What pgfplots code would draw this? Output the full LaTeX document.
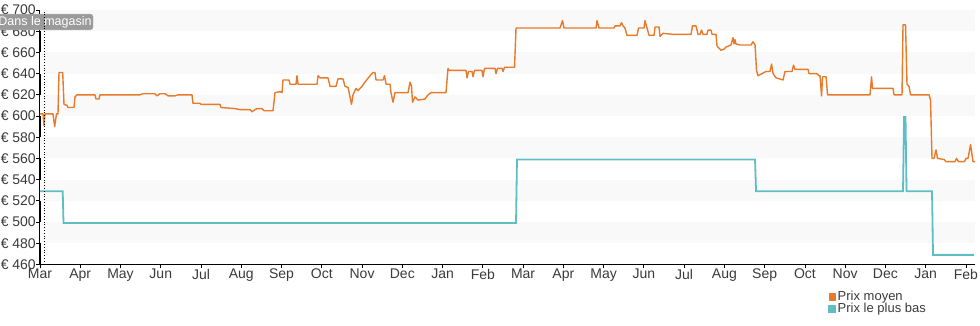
\documentclass[border=0pt]{standalone}
\usepackage{fontspec}
\setmainfont{Liberation Sans}
\usepackage{pgfplots}
\pgfplotsset{compat=1.18}
\definecolor{avgc}{HTML}{E87B2B}
\definecolor{lowc}{HTML}{5FBEC4}
\definecolor{band}{HTML}{F9F9F9}
\definecolor{txt}{HTML}{3A3A3A}
\definecolor{boxc}{HTML}{9A9A9A}
\begin{document}
\begin{tikzpicture}
\path[use as bounding box] (-40pt,-60.6pt) rectangle (940pt,264.4pt);
\begin{axis}[
  width=935pt, height=254.4pt, scale only axis,
  xmin=0, xmax=23.225, ymin=460, ymax=700,
  clip=false,
  axis x line*=bottom, axis y line*=left,
  axis line style={black, line width=1.1pt, -},
  xtick={0,...,23},
  xticklabels={Mar,Apr,May,Jun,Jul,Aug,Sep,Oct,Nov,Dec,Jan,Feb,Mar,Apr,May,Jun,Jul,Aug,Sep,Oct,Nov,Dec,Jan,Feb},
  ytick={460,480,...,700},
  yticklabels={€ 460,€ 480,€ 500,€ 520,€ 540,€ 560,€ 580,€ 600,€ 620,€ 640,€ 660,€ 680,€ 700},
  tick align=outside, major tick length=4pt,
  tick style={black, line width=0.8pt},
  ticklabel style={font=\fontsize{14}{16}\selectfont, text=txt},
  xticklabel style={inner sep=0pt, yshift=-0.5pt},
  yticklabel style={inner sep=0pt, xshift=0pt},
  legend style={at={(0.843,-0.1)}, anchor=north west, draw=none, fill=none,
    font=\fontsize{13}{15}\selectfont, text=txt, row sep=-2pt, inner sep=0pt,
    nodes={inner sep=1.5pt}},
  legend cell align=left,
  legend image code/.code={\fill[#1] (0pt,-3pt) rectangle (6pt,3pt);},
]
\fill[band] (axis cs:0,480) rectangle (axis cs:23.225,500);
\fill[band] (axis cs:0,520) rectangle (axis cs:23.225,540);
\fill[band] (axis cs:0,560) rectangle (axis cs:23.225,580);
\fill[band] (axis cs:0,600) rectangle (axis cs:23.225,620);
\fill[band] (axis cs:0,640) rectangle (axis cs:23.225,660);
\fill[band] (axis cs:0,680) rectangle (axis cs:23.225,700);

\addplot[avgc, line width=1.4pt, line join=round] coordinates {
(0,602)(0.075,602)(0.099,591)(0.124,602)(0.323,602)(0.365,590)(0.41,602)(0.447,602)
(0.472,641)(0.564,641)(0.596,611)(0.671,610)(0.696,608)(0.845,608)(0.869,618)(0.919,620)
(1.366,620)(1.391,616)(1.466,616)(1.49,620)(2.484,620)(2.559,621)(2.857,621)(2.906,619)
(2.981,621)(3.105,621)(3.18,619)(3.353,619)(3.428,620)(3.776,620)(3.8,612)(3.974,612)
(3.999,611)(4.471,611)(4.496,608)(4.844,607)(4.968,606)(5.216,606)(5.266,604)(5.341,606)
(5.39,607)(5.514,607)(5.564,605)(5.788,605)(5.837,622)(5.962,623)(6.011,622)(6.036,634)
(6.185,634)(6.21,630)(6.359,630)(6.384,638)(6.409,630)(6.881,630)(6.906,638)(6.955,636)
(7.154,636)(7.204,628)(7.353,628)(7.402,635)(7.527,635)(7.576,628)(7.651,627)(7.7,618)
(7.738,611)(7.775,620)(7.849,626)(7.899,624)(7.998,628)(8.073,632)(8.197,638)(8.272,641)
(8.321,641)(8.346,634)(8.52,634)(8.557,638)(8.595,630)(8.694,630)(8.719,622)(8.769,613)
(8.818,622)(9.141,622)(9.191,632)(9.228,628)(9.253,613)(9.315,618)(9.39,615)(9.563,616)
(9.638,620)(9.712,622)(10.085,622)(10.135,645)(10.16,643)(10.582,643)(10.607,636)(10.644,642)
(10.731,642)(10.756,637)(10.793,643)(10.979,643)(11.004,637)(11.042,645)(11.302,645)(11.327,640)
(11.364,645)(11.476,645)(11.501,642)(11.538,646)(11.787,646)(11.824,683)(12.917,683)(12.979,690)
(13.016,683)(13.811,683)(13.836,690)(13.886,683)(14.258,683)(14.283,685)(14.407,685)(14.444,688)
(14.482,685)(14.531,683)(14.581,676)(14.829,676)(14.867,683)(15.003,683)(15.028,690)(15.078,683)
(15.128,676)(15.252,676)(15.277,684)(15.376,684)(15.401,675)(15.475,678)(15.724,677)(16.171,677)
(16.208,685)(16.295,685)(16.345,677)(16.394,677)(16.432,681)(16.469,677)(16.568,677)(16.593,681)
(16.668,681)(16.692,677)(16.792,677)(16.817,666)(16.916,662)(16.991,663)(17.04,665)(17.164,667)
(17.214,674)(17.239,668)(17.263,672)(17.288,668)(17.388,667)(17.661,667)(17.711,670)(17.761,667)
(17.798,643)(17.835,638)(17.935,640)(18.034,642)(18.133,642)(18.171,649)(18.208,640)(18.282,636)
(18.456,634)(18.506,642)(18.68,642)(18.717,648)(18.754,644)(19.077,644)(19.102,640)(19.301,640)
(19.351,638)(19.375,638)(19.413,619)(19.438,637)(19.525,637)(19.562,620)(20.617,620)(20.655,637)
(20.679,626)(21.189,626)(21.213,620)(21.412,620)(21.437,686)(21.499,686)(21.536,630)(21.586,628)
(21.623,620)(22.083,620)(22.12,615)(22.157,560)(22.207,560)(22.257,568)(22.294,560)(22.455,559)
(22.505,557)(22.729,557)(22.766,560)(22.814,557)(22.964,557)(23.001,560)(23.052,560)(23.114,573)
(23.176,557)(23.225,557)
};
\addlegendentry{Prix moyen}

\addplot[lowc, line width=1.8pt] coordinates {
(0,529)(0.564,529)(0.584,499)(11.824,499)(11.848,559)(17.761,559)(17.786,529)
(21.437,529)(21.462,599)(21.499,599)(21.524,529)(22.157,529)(22.182,469)(23.2,469)
};
\addlegendentry{Prix le plus bas}

\node[fill=boxc, draw=gray!60, rounded corners=2.5pt, text=white,
  font=\fontsize{12.5}{14}\selectfont, inner xsep=1.5pt, inner ysep=2pt, minimum height=14.5pt]
  at (axis cs:0.124,688.7) {Dans le magasin};
\draw[black, dotted, line width=0.8pt] (axis cs:0.099,460) -- (axis cs:0.099,700);
\end{axis}
\end{tikzpicture}
\end{document}
